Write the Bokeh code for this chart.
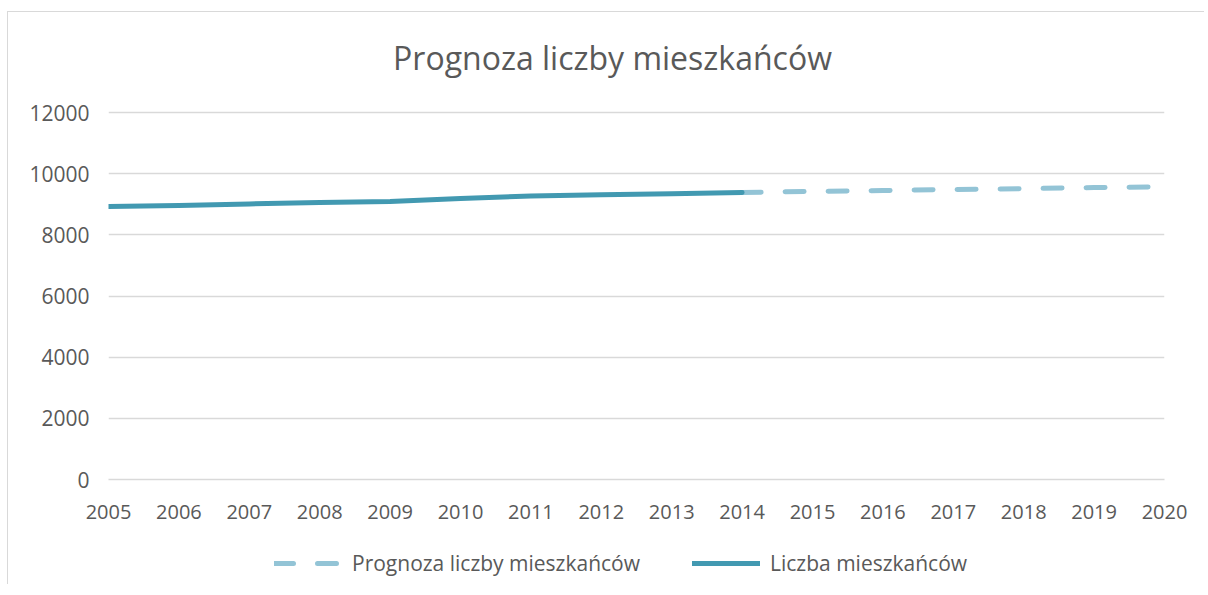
from bokeh.plotting import figure
from bokeh.models import Range1d, FixedTicker, Label, Legend, LegendItem
from bokeh.layouts import column
from bokeh.embed import file_html
from bokeh.resources import INLINE

# ---- data ----
title_text = "Prognoza liczby mieszkańców"
actual_label = "Liczba mieszkańców"
forecast_label = "Prognoza liczby mieszkańców"

actual_years = [2005, 2006, 2007, 2008, 2009, 2010, 2011, 2012, 2013, 2014]
actual_values = [8925, 8960, 9010, 9055, 9090, 9190, 9270, 9310, 9345, 9385]

forecast_years = [2014, 2015, 2016, 2017, 2018, 2019, 2020]
forecast_values = [9385, 9420, 9450, 9480, 9510, 9545, 9575]

x_ticks = list(range(2005, 2021))
y_ticks = [0, 2000, 4000, 6000, 8000, 10000, 12000]

FONT = "Open Sans"
TXT = "#595959"
GRID = "#d9d9d9"
SOLID = "#4299b1"
DASHED = "#93c4d6"

W = 1196
MAIN_H = 522
LEG_H = 50
FRAME_LEFT = 100
FRAME_RIGHT = 1156
FRAME_TOP = 20        # frame extended upward to host the title
GRID_TOP = 100        # where 12000 sits
FRAME_BOTTOM = 467
y_end = y_ticks[-1] * (FRAME_BOTTOM - FRAME_TOP) / (FRAME_BOTTOM - GRID_TOP)

p = figure(
    width=W, height=MAIN_H,
    output_backend="svg", toolbar_location=None,
    x_range=Range1d(2005, 2020), y_range=Range1d(0, y_end),
    min_border_left=FRAME_LEFT, min_border_right=W - FRAME_RIGHT,
    min_border_top=FRAME_TOP, min_border_bottom=MAIN_H - FRAME_BOTTOM,
)
p.outline_line_color = None
p.background_fill_color = "white"
p.border_fill_color = "white"

p.xaxis.ticker = FixedTicker(ticks=x_ticks)
p.yaxis.ticker = FixedTicker(ticks=y_ticks)
for ax in (p.xaxis, p.yaxis):
    ax.major_tick_line_color = None
    ax.minor_tick_line_color = None
    ax.major_tick_out = 0
    ax.major_tick_in = 0
    ax.major_label_text_font = FONT
    ax.major_label_text_color = TXT
p.xaxis.major_label_text_font_size = "20px"
p.yaxis.major_label_text_font_size = "21px"
p.yaxis.axis_line_color = None
p.xaxis.axis_line_color = GRID
p.xaxis.axis_line_width = 1.5
p.yaxis.major_label_standoff = 19
p.xaxis.major_label_standoff = 25

p.xgrid.grid_line_color = None
p.ygrid.grid_line_color = GRID
p.ygrid.grid_line_width = 1.5

line_fc = dict(line_color=DASHED, line_width=5, line_dash="19 24", line_cap="round")
line_ac = dict(line_color=SOLID, line_width=5, line_cap="round", line_join="round")

p.line(forecast_years, forecast_values, **line_fc)
p.line(actual_years, actual_values, **line_ac)

t = Label(x=504, y=FRAME_BOTTOM - 45, x_units="screen", y_units="screen", text=title_text,
          text_align="center", text_baseline="middle", text_font=FONT,
          text_font_size="32px", text_color=TXT)
p.add_layout(t)

# legend strip: a separate figure below, holding only the legend
# (its series are the same data, outside its view, so only the legend shows)
lf = figure(width=W, height=LEG_H, output_backend="svg", toolbar_location=None,
            x_range=Range1d(0, 1), y_range=Range1d(0, 1),
            min_border_left=FRAME_LEFT, min_border_right=W - FRAME_RIGHT,
            min_border_top=0, min_border_bottom=0,
            x_axis_type=None, y_axis_type=None)
lf.outline_line_color = None
lf.grid.visible = False
lf.background_fill_color = "white"
lf.border_fill_color = "white"
g_fc = lf.line(forecast_years, forecast_values, **line_fc)
g_ac = lf.line(actual_years, actual_values, **line_ac)

legend = Legend(items=[LegendItem(label=forecast_label, renderers=[g_fc]),
                       LegendItem(label=actual_label, renderers=[g_ac])],
                orientation="horizontal", location=(166, 7),
                glyph_width=68, glyph_height=20, label_height=20,
                label_standoff=10, spacing=52, padding=0, margin=0,
                label_text_font=FONT, label_text_font_size="21px",
                label_text_color=TXT, background_fill_alpha=0,
                border_line_color=None)
lf.add_layout(legend, "center")

layout = column(p, lf, spacing=0)
layout.styles = {"border-left": "1px solid #d9d9d9", "border-top": "1px solid #d9d9d9",
                 "margin-top": "11px", "margin-left": "7px"}

open("out.html", "w").write(file_html(layout, INLINE))
